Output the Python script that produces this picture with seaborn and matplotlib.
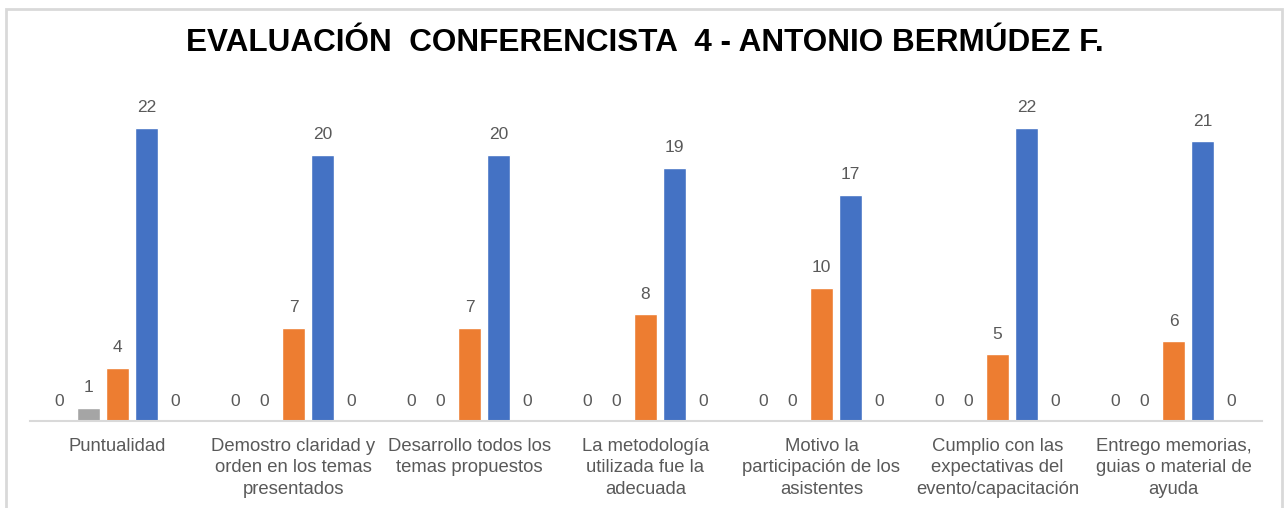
import matplotlib
matplotlib.use('Agg')
import matplotlib.pyplot as plt
from matplotlib.patches import Rectangle
import seaborn as sns
import pandas as pd

categorias = [
    "Puntualidad",
    "Demostro claridad y\norden en los temas\npresentados",
    "Desarrollo todos los\ntemas propuestos",
    "La metodología\nutilizada fue la\nadecuada",
    "Motivo la\nparticipación de los\nasistentes",
    "Cumplio con las\nexpectativas del\nevento/capacitación",
    "Entrego memorias,\nguias o material de\nayuda",
]
serie_1 = [0, 0, 0, 0, 0, 0, 0]
serie_2 = [1, 0, 0, 0, 0, 0, 0]
serie_3 = [4, 7, 7, 8, 10, 5, 6]
serie_4 = [22, 20, 20, 19, 17, 22, 21]
serie_5 = [0, 0, 0, 0, 0, 0, 0]
series = ["Serie 1", "Serie 2", "Serie 3", "Serie 4", "Serie 5"]
colores = ["#FFC000", "#A5A5A5", "#ED7D31", "#4472C4", "#5B9BD5"]

rows = []
for s, vals in zip(series, [serie_1, serie_2, serie_3, serie_4, serie_5]):
    for c, v in zip(categorias, vals):
        rows.append({"categoria": c, "serie": s, "valor": v})
df = pd.DataFrame(rows)

sns.set_style("white")
plt.rcParams['font.family'] = ['Liberation Sans', 'DejaVu Sans']

fig = plt.figure(figsize=(12.84, 5.08), dpi=100)
ax = fig.add_axes([29.5 / 1284, 1 - 421 / 508, 1232 / 1284, 24 * 13.32 / 508])

sns.barplot(data=df, x="categoria", y="valor", hue="serie", order=categorias,
            hue_order=series, palette=colores, width=0.824, gap=0.2,
            saturation=1, legend=False, ax=ax)

for cont in ax.containers:
    ax.bar_label(cont, padding=9, color="#595959", fontsize=12.5)

ax.set_ylim(0, 24)
ax.set_xlim(-0.5, 6.5)
ax.set_yticks([])
ax.set_xlabel("")
ax.set_ylabel("")
ax.tick_params(axis='x', length=0, pad=12, labelsize=13.3, labelcolor="#595959")
for lbl in ax.get_xticklabels():
    lbl.set_linespacing(1.34)
for side in ["left", "right", "top"]:
    ax.spines[side].set_visible(False)
ax.spines["bottom"].set_color("#d9d9d9")
ax.spines["bottom"].set_linewidth(1.5)

fig.text(0.502, 1 - 43 / 508, "EVALUACIÓN  CONFERENCISTA  4 - ANTONIO BERMÚDEZ F.",
         ha="center", va="center", fontsize=22.7, fontweight="bold",
         family=['Liberation Sans Narrow', 'Liberation Sans', 'DejaVu Sans'], color="black")

fig.add_artist(Rectangle((6 / 1284, -0.05), (1282 - 6) / 1284, 1.05 - 9 / 508,
                         transform=fig.transFigure, fill=False,
                         edgecolor="#d9d9d9", linewidth=2))

fig.savefig("out.png", dpi=100)
